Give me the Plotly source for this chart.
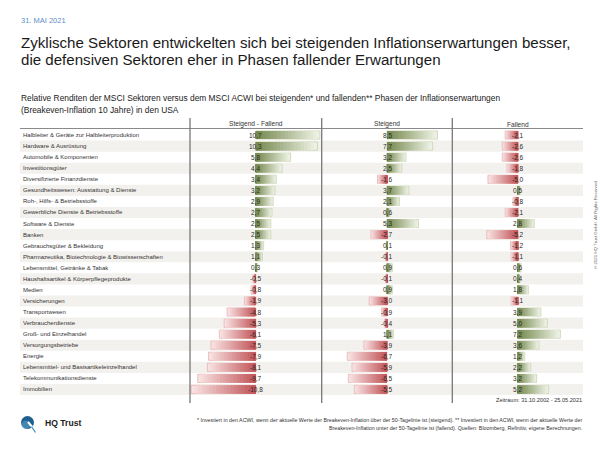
import plotly.graph_objects as go

# ---------------- data ----------------
sectors = [
    "Halbleiter & Geräte zur Halbleiterproduktion",
    "Hardware & Ausrüstung",
    "Automobile & Komponenten",
    "Investitionsgüter",
    "Diversifizierte Finanzdienste",
    "Gesundheitswesen: Ausstattung & Dienste",
    "Roh-, Hilfs- & Betriebsstoffe",
    "Gewerbliche Dienste & Betriebsstoffe",
    "Software & Dienste",
    "Banken",
    "Gebrauchsgüter & Bekleidung",
    "Pharmazeutika, Biotechnologie & Biowissenschaften",
    "Lebensmittel, Getränke & Tabak",
    "Haushaltsartikel & Körperpflegeprodukte",
    "Medien",
    "Versicherungen",
    "Transportwesen",
    "Verbraucherdienste",
    "Groß- und Einzelhandel",
    "Versorgungsbetriebe",
    "Energie",
    "Lebensmittel- und Basisartikeleinzelhandel",
    "Telekommunikationsdienste",
    "Immobilien",
]
diff_vals = [10.7, 10.3, 5.8, 4.4, 3.4, 3.2, 2.9, 2.7, 2.5, 2.5, 1.3, 1.1,
             0.3, -0.5, -0.8, -1.9, -4.8, -5.3, -6.1, -7.5, -7.9, -8.1, -9.7, -10.8]
rising_vals = [8.5, 7.7, 3.2, 2.5, -1.6, 3.7, 2.1, 0.6, 5.3, -2.7, 0.1, -0.1,
               0.9, -0.1, 0.9, -3.0, -0.9, -0.4, 1.1, -3.9, -6.7, -5.9, -6.5, -5.5]
falling_vals = [-2.1, -2.6, -2.6, -1.8, -5.0, 0.5, -0.8, -2.1, 2.8, -5.2, -1.2, -1.1,
                0.6, 0.4, 1.8, -1.1, 3.9, 5.0, 7.2, 3.6, 1.2, 2.2, 3.2, 5.2]
column_titles = ["Steigend - Fallend", "Steigend", "Fallend"]
columns = [diff_vals, rising_vals, falling_vals]

# ---------------- layout helpers ----------------
W, H = 600, 450
def px(x):
    return x / W
def py(y):
    return 1 - y / H

FONT = "Liberation Sans, Arial, sans-serif"
GREEN_DARK = (116, 136, 76)
GREEN_LIGHT = (241, 245, 234)
RED_DARK = (192, 82, 86)
RED_LIGHT = (250, 230, 230)
GREEN_EDGE = "rgb(200,212,172)"
RED_EDGE = "rgb(232,178,180)"

def mix(a, b, t):
    return "rgb(%d,%d,%d)" % tuple(round(a[i] * (1 - t) + b[i] * t) for i in range(3))

col_dom = [(190, 321.7), (321.7, 452.3), (452.3, 583)]
xr = 11.0
N = 18

fig = go.Figure()
axes = ["x", "x2", "x3"]
for ci, vals in enumerate(columns):
    for k in range(N, 0, -1):
        f = k / N
        t = (k - 0.5) / N
        colors = [mix(GREEN_DARK, GREEN_LIGHT, t) if v >= 0 else mix(RED_DARK, RED_LIGHT, t) for v in vals]
        if k == N:
            kw = dict(marker_line_color=[GREEN_EDGE if v >= 0 else RED_EDGE for v in vals],
                      marker_line_width=0.8)
        else:
            kw = dict(marker_line_width=0)
        fig.add_trace(go.Bar(
            x=[v * f for v in vals], y=sectors, orientation="h",
            marker_color=colors, width=0.74, xaxis=axes[ci], yaxis="y",
            hoverinfo="skip", showlegend=False, **kw))

shapes = []
annotations = []

# row shading (every second row)
for i in range(len(sectors)):
    if i % 2 == 1:
        shapes.append(dict(type="rect", xref="paper", yref="y", x0=px(20), x1=px(583),
                           y0=i - 0.5, y1=i + 0.5, fillcolor="#f3f1ee", line_width=0,
                           layer="below"))
# header underline
shapes.append(dict(type="line", xref="paper", yref="paper", x0=px(20), x1=px(583),
                   y0=py(128.5), y1=py(128.5), line=dict(color="#8a8a8a", width=1)))
# vertical separators
for xv in [190, 321.7, 452.3]:
    shapes.append(dict(type="line", xref="paper", yref="paper", x0=px(xv), x1=px(xv),
                       y0=py(118), y1=py(403), line=dict(color="#777777", width=1.3)))

# row labels
for i, s in enumerate(sectors):
    annotations.append(dict(text=s, xref="paper", yref="y", x=px(21), y=i,
                            xanchor="left", yanchor="middle", showarrow=False,
                            font=dict(family=FONT, size=6.0, color="#333333")))
# value labels
for ci, vals in enumerate(columns):
    for i, v in enumerate(vals):
        annotations.append(dict(text=f"{v:.1f}".replace(".", ","), xref=axes[ci], yref="y",
                                x=0, y=i, xanchor="center", yanchor="middle", showarrow=False,
                                font=dict(family=FONT, size=6.5, color="#2a2a2a")))
# column titles
for ci, t in enumerate(column_titles):
    annotations.append(dict(text=t, xref="paper", yref="paper",
                            x=px((col_dom[ci][0] + col_dom[ci][1]) / 2), y=py(124.5),
                            xanchor="center", yanchor="middle", showarrow=False,
                            font=dict(family=FONT, size=6.6, color="#333333")))

def txt(text, x, y, size, color="#222222", xanchor="left", **extra):
    annotations.append(dict(text=text, xref="paper", yref="paper", x=px(x), y=py(y),
                            xanchor=xanchor, yanchor="middle", showarrow=False,
                            font=dict(family=FONT, size=size, color=color), **extra))

txt("31. MAI 2021", 19, 21, 7.5, color="#5b8fc6")
txt("Zyklische Sektoren entwickelten sich bei steigenden Inflationserwartungen besser,", 18.5, 42, 15.1, color="#1a1a1a")
txt("die defensiven Sektoren eher in Phasen fallender Erwartungen", 18.5, 59.5, 15.1, color="#1a1a1a")
txt("Relative Renditen der MSCI Sektoren versus dem MSCI ACWI bei steigenden* und fallenden** Phasen der Inflationserwartungen", 19, 98, 8.4)
txt("(Breakeven-Inflation 10 Jahre) in den USA", 19, 109.5, 8.4)
txt("Zeitraum: 31.10.2002 - 25.05.2021", 584, 400, 5.6, color="#333333", xanchor="right")
txt("* Investiert in den ACWI, wenn der aktuelle Werte der Breakeven-Inflation über der 50-Tagelinie ist (steigend). "
    "** Investiert in den ACWI, wenn der aktuelle Werte der", 584, 420, 5.3, color="#333333", xanchor="right")
txt("Breakeven-Inflation unter der 50-Tagelinie ist (fallend). Quellen: Bloomberg, Refinitiv, eigene Berechnungen.",
    584, 427.5, 5.3, color="#333333", xanchor="right")
txt("<b>HQ Trust</b>", 43, 423, 8.6, color="#222222")
annotations.append(dict(text="© 2021 HQ Trust GmbH. All Rights Reserved.", xref="paper", yref="paper",
                        x=px(595), y=py(225), xanchor="center", yanchor="middle", showarrow=False,
                        textangle=-90, font=dict(family=FONT, size=4.4, color="#666666")))

# logo
shapes.append(dict(type="circle", xref="paper", yref="paper", x0=px(21), x1=px(34),
                   y0=py(429), y1=py(416), fillcolor="#1f5f8e", line_width=0))
shapes.append(dict(type="circle", xref="paper", yref="paper", x0=px(21.5), x1=px(30.5),
                   y0=py(429), y1=py(420.5), fillcolor="#5aa0c8", line_width=0, opacity=0.6))
shapes.append(dict(type="path", xref="paper", yref="paper",
                   path=f"M {px(28)} {py(422)} L {px(33.5)} {py(428.5)}",
                   line=dict(color="white", width=2)))
shapes.append(dict(type="path", xref="paper", yref="paper",
                   path=f"M {px(31.5)} {py(426.5)} L {px(35.5)} {py(432.5)}",
                   line=dict(color="#4a8fbf", width=1.3)))

layout_axes = {}
for ci, name in enumerate(["xaxis", "xaxis2", "xaxis3"]):
    layout_axes[name] = dict(domain=[px(col_dom[ci][0]), px(col_dom[ci][1])], range=[-xr, xr],
                             anchor="y", visible=False, fixedrange=True)

fig.update_layout(
    width=W, height=H, margin=dict(l=0, r=0, t=0, b=0),
    paper_bgcolor="white", plot_bgcolor="rgba(0,0,0,0)",
    barmode="overlay", showlegend=False, hovermode=False,
    yaxis=dict(domain=[py(395), py(129.5)], range=[len(sectors) - 0.5, -0.5],
               type="category", visible=False, fixedrange=True),
    shapes=shapes, annotations=annotations,
    **layout_axes,
)
fig.write_html("out.html", config={"displayModeBar": False},
               post_script="document.body.style.margin='0px';")
